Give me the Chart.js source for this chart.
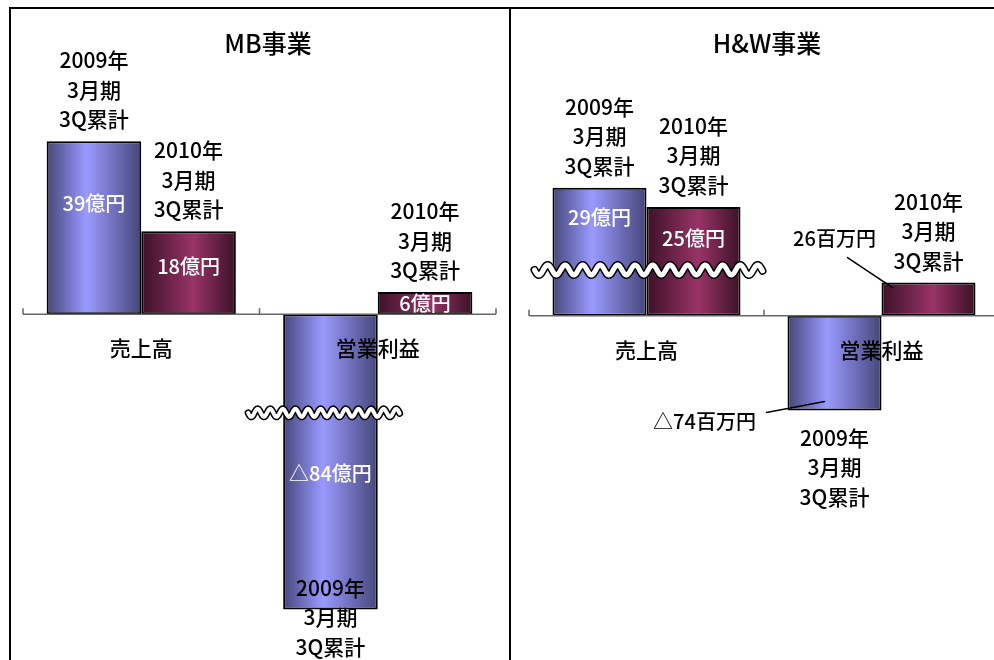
<!DOCTYPE html>
<html lang="ja">
<head>
<meta charset="utf-8">
<title>MB事業 / H&amp;W事業</title>
<script src="https://cdn.jsdelivr.net/npm/chart.js@4.4.1/dist/chart.umd.min.js"></script>
<style>
  html, body { margin: 0; padding: 0; background: #fff; overflow: hidden; }
  #page { position: relative; width: 994px; height: 660px; overflow: hidden; }
  #mbBox { position: absolute; left: 0; top: 0; width: 510px; height: 660px; }
  #hwBox { position: absolute; left: 510px; top: 0; width: 484px; height: 660px; overflow: hidden; }
  #mbBox canvas, #hwBox canvas { position: absolute; left: 0; top: 0; }
  .rule { position: absolute; background: #000; }
</style>
</head>
<body>
<div id="page">
  <div id="mbBox"><canvas id="mbChart" width="510" height="660"></canvas></div>
  <div id="hwBox"><canvas id="hwChart" width="510" height="660"></canvas></div>
  <div class="rule" style="left:9px;top:7px;width:985px;height:1.5px"></div>
  <div class="rule" style="left:9px;top:7px;width:1.5px;height:653px"></div>
  <div class="rule" style="left:509px;top:7px;width:1.5px;height:653px"></div>
</div>
<script>
const categories = ['売上高', '営業利益'];
const seriesNames = ['2009年3月期3Q累計', '2010年3月期3Q累計'];
const periodLines = [['2009年', '3月期', '3Q累計'], ['2010年', '3月期', '3Q累計']];

// MB事業 (億円). The 2009 営業利益 bar (△84) is cut by a wavy break, so it is drawn shorter
const mb2009 = [39, -66.5];
const mb2010 = [18.7, 5];
const mbText2009 = ['39億円', '△84億円'];
const mbText2010 = ['18億円', '6億円'];

// H&W事業 (百万円). Both 売上高 bars (29億, 25億) are cut by a wavy break
const hw2009 = [100, -74];
const hw2010 = [85, 26];
const hwText2009 = ['29億円', '△74百万円'];
const hwText2010 = ['25億円', '26百万円'];

const FONT = '"Noto Sans CJK JP", "Noto Sans", sans-serif';
const shades = [
  [[0, '#46467a'], [0.42, '#9a9aff'], [1, '#46467a']],
  [[0, '#3c1127'], [0.55, '#983467'], [1, '#3c1127']]
];

function drawWave(ctx, x0, x1, y, amp, period, thick) {
  ctx.beginPath();
  for (let x = x0; x <= x1; x += 0.5) {
    const yy = y + amp * Math.sin(2 * Math.PI * (x - x0) / period);
    if (x === x0) ctx.moveTo(x, yy); else ctx.lineTo(x, yy);
  }
  ctx.lineCap = 'round';
  ctx.lineJoin = 'round';
  ctx.strokeStyle = '#000';
  ctx.lineWidth = thick + 3;
  ctx.stroke();
  ctx.strokeStyle = '#fff';
  ctx.lineWidth = thick;
  ctx.stroke();
}

const panelPlugin = {
  id: 'panel',
  beforeDatasetsDraw(chart) {
    const ctx = chart.ctx;
    chart.data.datasets.forEach((ds, i) => {
      chart.getDatasetMeta(i).data.forEach(bar => {
        const g = ctx.createLinearGradient(bar.x - bar.width / 2, 0, bar.x + bar.width / 2, 0);
        shades[i].forEach(s => g.addColorStop(s[0], s[1]));
        bar.options = Object.assign({}, bar.options, { backgroundColor: g });
      });
    });
  },
  afterDatasetsDraw(chart) {
    const ctx = chart.ctx;
    const opts = chart.options.panel;
    const area = chart.chartArea;
    const xs = chart.scales.x;
    const y0 = chart.scales.y.getPixelForValue(0);

    ctx.save();
    // category axis
    ctx.strokeStyle = '#666';
    ctx.lineWidth = 1.5;
    ctx.beginPath();
    ctx.moveTo(area.left, y0);
    ctx.lineTo(area.right, y0);
    const w = (area.right - area.left) / categories.length;
    for (let k = 0; k <= categories.length; k++) {
      const x = area.left + k * w;
      ctx.moveTo(x, y0);
      ctx.lineTo(x, y0 - 6);
    }
    ctx.stroke();

    // wavy axis break
    const cut = opts.breakBars.map(([d, j]) => chart.getDatasetMeta(d).data[j]);
    const bx0 = Math.min(...cut.map(b => b.x - b.width / 2)) - opts.waveExtend[0];
    const bx1 = Math.max(...cut.map(b => b.x + b.width / 2)) + opts.waveExtend[1];
    drawWave(ctx, bx0, bx1, chart.scales.y.getPixelForValue(opts.breakAt), opts.waveAmp, opts.wavePeriod, opts.waveThick);

    ctx.textAlign = 'center';
    ctx.textBaseline = 'middle';

    // category labels
    ctx.fillStyle = '#000';
    ctx.font = '500 21px ' + FONT;
    categories.forEach((c, i) => ctx.fillText(c, xs.getPixelForValue(i), y0 + 34));

    // title
    ctx.font = '500 25px ' + FONT;
    ctx.fillText(opts.title, opts.titleX, 43);

    chart.data.datasets.forEach((ds, i) => {
      chart.getDatasetMeta(i).data.forEach((bar, j) => {
        const left = bar.x - bar.width / 2;
        const top = Math.min(bar.y, bar.base);
        const bottom = Math.max(bar.y, bar.base);
        const v = ds.data[j];

        // period label
        ctx.fillStyle = '#000';
        ctx.font = '500 21px ' + FONT;
        const lines = periodLines[i];
        let first;
        if (v >= 0) {
          first = top - 22 - 29.5 * (lines.length - 1);
        } else {
          first = Math.min(bottom + 27, 647 - 29.5 * (lines.length - 1));
        }
        lines.forEach((t, k) => ctx.fillText(t, bar.x, first + 29.5 * k));

        // value label
        const place = opts.valuePlace[i][j];
        const txt = ds.valueText[j];
        ctx.font = '500 20px ' + FONT;
        if (typeof place === 'number') {
          ctx.fillStyle = '#fff';
          ctx.fillText(txt, bar.x, y0 + (bar.y - y0) * place);
        } else {
          const ref = v >= 0 ? top : bottom;
          ctx.fillStyle = '#000';
          ctx.fillText(txt, left + place.text[0], ref + place.text[1]);
          ctx.strokeStyle = '#000';
          ctx.lineWidth = 1.5;
          ctx.beginPath();
          ctx.moveTo(left + place.from[0], ref + place.from[1]);
          ctx.lineTo(left + place.to[0], ref + place.to[1]);
          ctx.stroke();
        }
      });
    });
    ctx.restore();
  }
};

function makeChart(id, v2009, v2010, t2009, t2010, panel, padding, min, max) {
  const barStyle = {
    backgroundColor: '#9999ff',
    borderColor: '#000',
    borderWidth: 2,
    borderSkipped: false,
    categoryPercentage: 0.8,
    barPercentage: 1
  };
  return new Chart(document.getElementById(id).getContext('2d'), {
    type: 'bar',
    data: {
      labels: categories,
      datasets: [
        Object.assign({ label: seriesNames[0], data: v2009, valueText: t2009 }, barStyle),
        Object.assign({ label: seriesNames[1], data: v2010, valueText: t2010 }, barStyle)
      ]
    },
    options: {
      responsive: false,
      animation: false,
      events: [],
      layout: { padding: padding },
      scales: {
        x: { display: false },
        y: { display: false, min: min, max: max }
      },
      plugins: {
        legend: { display: false },
        tooltip: { enabled: false }
      },
      panel: panel
    },
    plugins: [panelPlugin]
  });
}

makeChart('mbChart', mb2009, mb2010, mbText2009, mbText2010, {
  title: 'MB事業',
  titleX: 268,
  breakBars: [[0, 1]],
  breakAt: -22.2,
  waveExtend: [35, 22],
  waveAmp: 4,
  wavePeriod: 12.6,
  waveThick: 4,
  valuePlace: [[0.64, 0.54], [0.58, 0.5]]
}, { left: 23, right: 14, top: 48, bottom: 35 }, -70, 60);

makeChart('hwChart', hw2009, hw2010, hwText2009, hwText2010, {
  title: 'H&W事業',
  titleX: 257,
  breakBars: [[0, 0], [1, 0]],
  breakAt: 35.8,
  waveExtend: [18, 22],
  waveAmp: 5,
  wavePeriod: 17.5,
  waveThick: 5,
  valuePlace: [
    [0.77, { text: [-83, 11], from: [-21, 2], to: [37, -9] }],
    [0.71, { text: [-47, -44], from: [-34, -25], to: [11, 5] }]
  ]
}, { left: 19, right: 21, top: 47, bottom: 165 }, -140, 210);
</script>
</body>
</html>
